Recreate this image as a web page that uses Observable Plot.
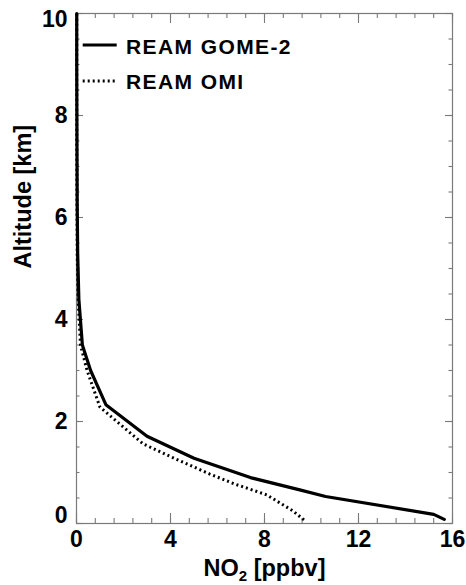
<!DOCTYPE html>
<html><head><meta charset="utf-8">
<script src="https://cdn.jsdelivr.net/npm/d3@7"></script>
<script src="https://cdn.jsdelivr.net/npm/@observablehq/plot@0.6"></script>
<style>body{margin:0;background:#fff}#chart{width:466px;height:585px}</style>
</head><body><div id="chart"></div>
<script>
// ---- data ----
const seriesNames = ["REAM GOME-2", "REAM OMI"];
const gomeAlt = [0.08, 0.18, 0.53, 0.66, 0.90, 1.28, 1.71, 2.33, 3.00, 3.50, 4.40, 5.30, 6.30, 7.50, 9.00, 10.0];
const gomeNO2 = [15.65, 15.2, 10.6, 9.5, 7.4, 5.0, 3.0, 1.25, 0.60, 0.25, 0.10, 0.05, 0.03, 0.02, 0.01, 0.01];
const omiAlt  = [0.07, 0.25, 0.56, 0.78, 0.97, 1.27, 1.56, 2.28, 3.00, 3.50, 4.40, 5.30, 6.30, 7.50, 9.00, 10.0];
const omiNO2  = [9.68, 9.2, 8.1, 6.7, 5.67, 4.2, 2.84, 1.0, 0.45, 0.17, 0.07, 0.03, 0.02, 0.01, 0.01, 0.01];
const xMajorTicks = [0, 4, 8, 12, 16];
const xMinorTicks = [0, 0.8, 1.6, 2.4, 3.2, 4, 4.8, 5.6, 6.4, 7.2, 8, 8.8, 9.6, 10.4, 11.2, 12, 12.8, 13.6, 14.4, 15.2, 16];
const yMajorTicks = [0, 2, 4, 6, 8, 10];
const yMinorTicks = [0, 0.5, 1, 1.5, 2, 2.5, 3, 3.5, 4, 4.5, 5, 5.5, 6, 6.5, 7, 7.5, 8, 8.5, 9, 9.5, 10];
const xTitle = "NO2 [ppbv]";
const yTitle = "Altitude [km]";

const gome = gomeAlt.map((a, i) => ({alt: a, no2: gomeNO2[i]}));
const omi = omiAlt.map((a, i) => ({alt: a, no2: omiNO2[i]}));

const W = 466, H = 585, MT = 13, MB = 62, ML = 76, MR = 14;
const FH = H - MT - MB, FW = W - ML - MR;
const FONT = "'Liberation Sans', Arial, Helvetica, sans-serif";
const axisColor = "#7a7a7a";
const tk = {stroke: axisColor, strokeWidth: 1.1};
const labOpts = {label: null, tickSize: 0, fontSize: 23, fill: "#000", tickFormat: d => String(d)};

const plot = Plot.plot({
  width: W, height: H,
  marginTop: MT, marginBottom: MB, marginLeft: ML, marginRight: MR,
  x: {domain: [0, 16]},
  y: {domain: [0, 10]},
  style: {fontFamily: FONT, fontWeight: "bold", background: "#fff", color: "#000"},
  marks: [
    Plot.frame({stroke: axisColor, strokeWidth: 1.2}),
    // inward ticks
    Plot.ruleX(xMinorTicks, {x: d => d, insetTop: FH - 5, ...tk}),
    Plot.ruleX(xMajorTicks, {x: d => d, insetTop: FH - 10, ...tk}),
    Plot.ruleX(xMinorTicks, {x: d => d, insetBottom: FH - 5, ...tk}),
    Plot.ruleX(xMajorTicks, {x: d => d, insetBottom: FH - 10, ...tk}),
    Plot.ruleY(yMinorTicks, {y: d => d, insetRight: FW - 3.5, ...tk}),
    Plot.ruleY(yMajorTicks, {y: d => d, insetRight: FW - 7, ...tk}),
    Plot.ruleY(yMinorTicks, {y: d => d, insetLeft: FW - 3.5, ...tk}),
    Plot.ruleY(yMajorTicks, {y: d => d, insetLeft: FW - 7, ...tk}),
    // tick labels
    Plot.axisX(xMajorTicks, {...labOpts, anchor: "bottom", tickPadding: 7}),
    Plot.axisY(yMajorTicks.filter(d => d > 0 && d < 10), {...labOpts, anchor: "left", tickPadding: 9}),
    Plot.axisY(yMajorTicks.filter(d => d === 10), {...labOpts, anchor: "left", tickPadding: 9, dy: 6}),
    Plot.axisY(yMajorTicks.filter(d => d === 0), {...labOpts, anchor: "left", tickPadding: 9, dy: -8}),
    // axis titles
    Plot.text([yTitle], {text: d => d, frameAnchor: "left", dx: -53, rotate: -90, fontSize: 23.5, fill: "#000"}),
    Plot.text([xTitle], {text: d => d, frameAnchor: "bottom", dy: 52, lineAnchor: "bottom", fontSize: 23.5, fill: "#000"}),
    // data
    Plot.line(omi, {x: "no2", y: "alt", stroke: "#000", strokeWidth: 3, strokeDasharray: "2,3", strokeLinecap: "butt"}),
    Plot.line(gome, {x: "no2", y: "alt", stroke: "#000", strokeWidth: 3.2})
  ]
});

// subscript in x title
d3.select(plot).selectAll("text").filter(function () { return this.textContent === xTitle; }).each(function () {
  const t = d3.select(this);
  t.text(null);
  t.append("tspan").text("NO");
  t.append("tspan").attr("font-size", "15px").attr("dy", "5").text("2");
  t.append("tspan").attr("dy", "-5").text("\u00a0[ppbv]");
});

// legend
const lg = d3.select(plot).append("g")
  .attr("font-family", FONT).attr("font-weight", "bold").attr("text-anchor", "start")
  .attr("font-size", "21px").attr("letter-spacing", "1.4px").attr("fill", "#000");
const legendStyles = [{dash: null, ly: 45, ty: 53.5}, {dash: "2,3", ly: 81, ty: 88.5}];
seriesNames.forEach((name, i) => {
  const s = legendStyles[i];
  lg.append("line").attr("x1", 82.7).attr("x2", 116.7).attr("y1", s.ly).attr("y2", s.ly)
    .attr("stroke", "#000").attr("stroke-width", 3).attr("stroke-dasharray", s.dash);
  lg.append("text").attr("x", 126).attr("y", s.ty).attr("text-anchor", "start").text(name);
});

document.getElementById("chart").appendChild(plot);
</script>
</body></html>
